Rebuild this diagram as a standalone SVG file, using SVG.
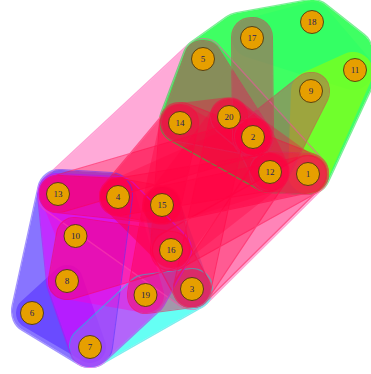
<svg xmlns="http://www.w3.org/2000/svg" xmlns:xlink="http://www.w3.org/1999/xlink" width="371" height="374" viewBox="0 0 371 374">
<style>
.h{stroke-linejoin:round;stroke-linecap:round}
.r24{stroke-width:48}
.r22{stroke-width:44}
.r20{stroke-width:40}
.r18{stroke-width:36}
.r16{stroke-width:32}
.node circle{fill:#E69F00;stroke:#3a2a10;stroke-width:0.8}
.node text{font-family:"Liberation Serif","Times New Roman",serif;font-size:9px;fill:#1c1c5c;text-anchor:middle}
</style>
<defs>
<filter id="edge" filterUnits="userSpaceOnUse" x="0" y="0" width="371" height="374">
<feMorphology in="SourceGraphic" operator="dilate" radius="0.7" result="d"/>
<feComposite in="d" in2="SourceGraphic" operator="out"/>
</filter>
<path id="pink" class="h r20" d="M58,194 L203,59 L308,174 L192,289 Z"/>
<path id="green" class="h r22" d="M182,121 L205,60 L240,35 L312,22 L350,52 L353,75 L308,172 L270,170 Z"/>
<path id="chart" class="h r20" d="M353,72 L311,91 L308,174 Z"/>
<path id="lgreen" class="h r20" d="M312,22 L353,70 L252,38 Z"/>
<path id="blue" class="h r22" d="M60,192 L110,195 L90,345 L34,311 Z"/>
<path id="dblue" class="h r16" d="M67,281 L32,313 L90,347 Z"/>
<path id="cyan" class="h r20" d="M90,347 L146,295 L192,289 Z"/>
<path id="mag" class="h r20" d="M58,194 L118,197 L171,250 L146,295 L90,347 L67,281 Z"/>
<path id="mag2" class="h r18" d="M58,194 L75,236 L67,281 L146,295 L118,197 Z"/>
<path id="steel" class="h r18" d="M162,205 L192,289 L171,250 Z"/>
<path id="o17" class="h r20" d="M252,38 L253,137 Z"/>
<path id="o5" class="h r18" d="M203,59 L180,123 L253,137 Z"/>
<path id="o9" class="h r18" d="M311,91 L270,172 L253,137 Z"/>
<path id="o202" class="h r18" d="M229,117 L253,137 Z"/>
<path id="o121" class="h r20" d="M270,172 L308,174 Z"/>
<path id="r1" class="h r20" d="M180,123 L308,174 L171,250 Z"/>
<path id="r2" class="h r18" d="M58,194 L118,197 L162,205 Z"/>
<path id="r3" class="h r18" d="M180,123 L118,197 L162,205 Z"/>
<path id="r4" class="h r18" d="M162,205 L171,250 L192,289 L146,295 Z"/>
<path id="r5" class="h r18" d="M75,236 L171,250 L67,281 Z"/>
<path id="r6" class="h r18" d="M118,197 L270,172 Z"/>
<path id="r7" class="h r18" d="M58,194 L253,137 Z"/>
<path id="r8" class="h r18" d="M162,205 L308,174 Z"/>
<path id="r9" class="h r18" d="M229,117 L192,289 Z"/>
<path id="r10" class="h r20" d="M180,123 L229,117 L253,137 L270,172 L162,205 Z"/>
<path id="r11" class="h r18" d="M308,174 L192,289 L171,250 Z"/>
<path id="r12" class="h r18" d="M180,123 L270,172 L171,250 L118,197 Z"/>
<path id="r13" class="h r18" d="M229,117 L308,174 L162,205 Z"/>
<path id="r14" class="h r18" d="M118,197 L253,137 L171,250 Z"/>
<path id="r15" class="h r18" d="M270,172 L192,289 Z"/>
</defs>
<g id="hulls">
<use xlink:href="#pink" fill="#FF44AA" stroke="#FF44AA" opacity="0.45"/>
<use xlink:href="#green" fill="#00FF30" stroke="#00FF30" opacity="0.75"/>
<use xlink:href="#lgreen" fill="#22FF66" stroke="#22FF66" opacity="0.35"/>
<use xlink:href="#chart" fill="#99FF00" stroke="#99FF00" opacity="0.55"/>
<use xlink:href="#blue" fill="#4A2BFF" stroke="#4A2BFF" opacity="0.65"/>
<use xlink:href="#dblue" fill="#3300FF" stroke="#3300FF" opacity="0.35"/>
<use xlink:href="#cyan" fill="#00FFEE" stroke="#00FFEE" opacity="0.6"/>
<use xlink:href="#mag" fill="#E800FF" stroke="#E800FF" opacity="0.6"/>
<use xlink:href="#mag2" fill="#FF00D0" stroke="#FF00D0" opacity="0.4"/>
<use xlink:href="#steel" fill="#2255DD" stroke="#2255DD" opacity="0.35"/>
<use xlink:href="#o17" fill="#E0205A" stroke="#E0205A" opacity="0.45"/>
<use xlink:href="#o5" fill="#E0205A" stroke="#E0205A" opacity="0.45"/>
<use xlink:href="#o9" fill="#E0205A" stroke="#E0205A" opacity="0.4"/>
<use xlink:href="#o202" fill="#FF0040" stroke="#FF0040" opacity="0.3"/>
<use xlink:href="#o121" fill="#FF1040" stroke="#FF1040" opacity="0.35"/>
<use xlink:href="#r1" fill="#FF0040" stroke="#FF0040" opacity="0.35"/>
<use xlink:href="#r2" fill="#FF0050" stroke="#FF0050" opacity="0.35"/>
<use xlink:href="#r3" fill="#FF0040" stroke="#FF0040" opacity="0.35"/>
<use xlink:href="#r4" fill="#FF0040" stroke="#FF0040" opacity="0.4"/>
<use xlink:href="#r5" fill="#FF0050" stroke="#FF0050" opacity="0.35"/>
<use xlink:href="#r6" fill="#FF0040" stroke="#FF0040" opacity="0.3"/>
<use xlink:href="#r7" fill="#FF0040" stroke="#FF0040" opacity="0.3"/>
<use xlink:href="#r8" fill="#FF0040" stroke="#FF0040" opacity="0.3"/>
<use xlink:href="#r9" fill="#FF0040" stroke="#FF0040" opacity="0.3"/>
<use xlink:href="#r10" fill="#FF0040" stroke="#FF0040" opacity="0.35"/>
<use xlink:href="#r11" fill="#FF3070" stroke="#FF3070" opacity="0.3"/>
<use xlink:href="#r12" fill="#FF0040" stroke="#FF0040" opacity="0.3"/>
<use xlink:href="#r13" fill="#FF0040" stroke="#FF0040" opacity="0.3"/>
<use xlink:href="#r14" fill="#FF0040" stroke="#FF0040" opacity="0.3"/>
<use xlink:href="#r15" fill="#FF0040" stroke="#FF0040" opacity="0.3"/>
</g>
<g id="borders" opacity="0.5">
<use xlink:href="#pink" fill="#FF44AA" stroke="#FF44AA" filter="url(#edge)"/>
<use xlink:href="#green" fill="#00DD30" stroke="#00DD30" filter="url(#edge)"/>
<use xlink:href="#blue" fill="#4A2BFF" stroke="#4A2BFF" filter="url(#edge)"/>
<use xlink:href="#cyan" fill="#00DDDD" stroke="#00DDDD" filter="url(#edge)"/>
<use xlink:href="#mag" fill="#CC00EE" stroke="#CC00EE" filter="url(#edge)"/>
<use xlink:href="#o17" fill="#E0205A" stroke="#E0205A" filter="url(#edge)"/>
<use xlink:href="#o5" fill="#E0205A" stroke="#E0205A" filter="url(#edge)"/>
<use xlink:href="#o9" fill="#E0205A" stroke="#E0205A" filter="url(#edge)"/>
<use xlink:href="#o202" fill="#E0205A" stroke="#E0205A" filter="url(#edge)"/>
<use xlink:href="#o121" fill="#E0205A" stroke="#E0205A" filter="url(#edge)"/>
<use xlink:href="#r1" fill="#FF0040" stroke="#FF0040" filter="url(#edge)"/>
<use xlink:href="#r2" fill="#FF0040" stroke="#FF0040" filter="url(#edge)"/>
<use xlink:href="#r3" fill="#FF0040" stroke="#FF0040" filter="url(#edge)"/>
<use xlink:href="#r4" fill="#FF0040" stroke="#FF0040" filter="url(#edge)"/>
<use xlink:href="#r5" fill="#FF0040" stroke="#FF0040" filter="url(#edge)"/>
<use xlink:href="#r6" fill="#FF0040" stroke="#FF0040" filter="url(#edge)"/>
<use xlink:href="#r7" fill="#FF0040" stroke="#FF0040" filter="url(#edge)"/>
<use xlink:href="#r8" fill="#FF0040" stroke="#FF0040" filter="url(#edge)"/>
<use xlink:href="#r9" fill="#FF0040" stroke="#FF0040" filter="url(#edge)"/>
<use xlink:href="#r11" fill="#FF0040" stroke="#FF0040" filter="url(#edge)"/>
<use xlink:href="#r15" fill="#FF0040" stroke="#FF0040" filter="url(#edge)"/>
</g>
<g id="nodes">
<g id="n1" class="node"><circle cx="308" cy="174" r="11.5"/><text x="308" y="177">1</text></g>
<g id="n2" class="node"><circle cx="253" cy="137" r="11.5"/><text x="253" y="140">2</text></g>
<g id="n3" class="node"><circle cx="192" cy="289" r="11.5"/><text x="192" y="292">3</text></g>
<g id="n4" class="node"><circle cx="118" cy="197" r="11.5"/><text x="118" y="200">4</text></g>
<g id="n5" class="node"><circle cx="203" cy="59" r="11.5"/><text x="203" y="62">5</text></g>
<g id="n6" class="node"><circle cx="32" cy="313" r="11.5"/><text x="32" y="316">6</text></g>
<g id="n7" class="node"><circle cx="90" cy="347" r="11.5"/><text x="90" y="350">7</text></g>
<g id="n8" class="node"><circle cx="67" cy="281" r="11.5"/><text x="67" y="284">8</text></g>
<g id="n9" class="node"><circle cx="311" cy="91" r="11.5"/><text x="311" y="94">9</text></g>
<g id="n10" class="node"><circle cx="75.5" cy="236" r="11.5"/><text x="75.5" y="239">10</text></g>
<g id="n11" class="node"><circle cx="355" cy="70" r="11.5"/><text x="355" y="73">11</text></g>
<g id="n12" class="node"><circle cx="270" cy="172" r="11.5"/><text x="270" y="175">12</text></g>
<g id="n13" class="node"><circle cx="58" cy="194" r="11.5"/><text x="58" y="197">13</text></g>
<g id="n14" class="node"><circle cx="180" cy="123" r="11.5"/><text x="180" y="126">14</text></g>
<g id="n15" class="node"><circle cx="162" cy="205" r="11.5"/><text x="162" y="208">15</text></g>
<g id="n16" class="node"><circle cx="171" cy="250" r="11.5"/><text x="171" y="253">16</text></g>
<g id="n17" class="node"><circle cx="252" cy="38" r="11.5"/><text x="252" y="41">17</text></g>
<g id="n18" class="node"><circle cx="312" cy="22" r="11.5"/><text x="312" y="25">18</text></g>
<g id="n19" class="node"><circle cx="145.5" cy="295" r="11.5"/><text x="145.5" y="298">19</text></g>
<g id="n20" class="node"><circle cx="229" cy="117" r="11.5"/><text x="229" y="120">20</text></g>
</g>
</svg>
